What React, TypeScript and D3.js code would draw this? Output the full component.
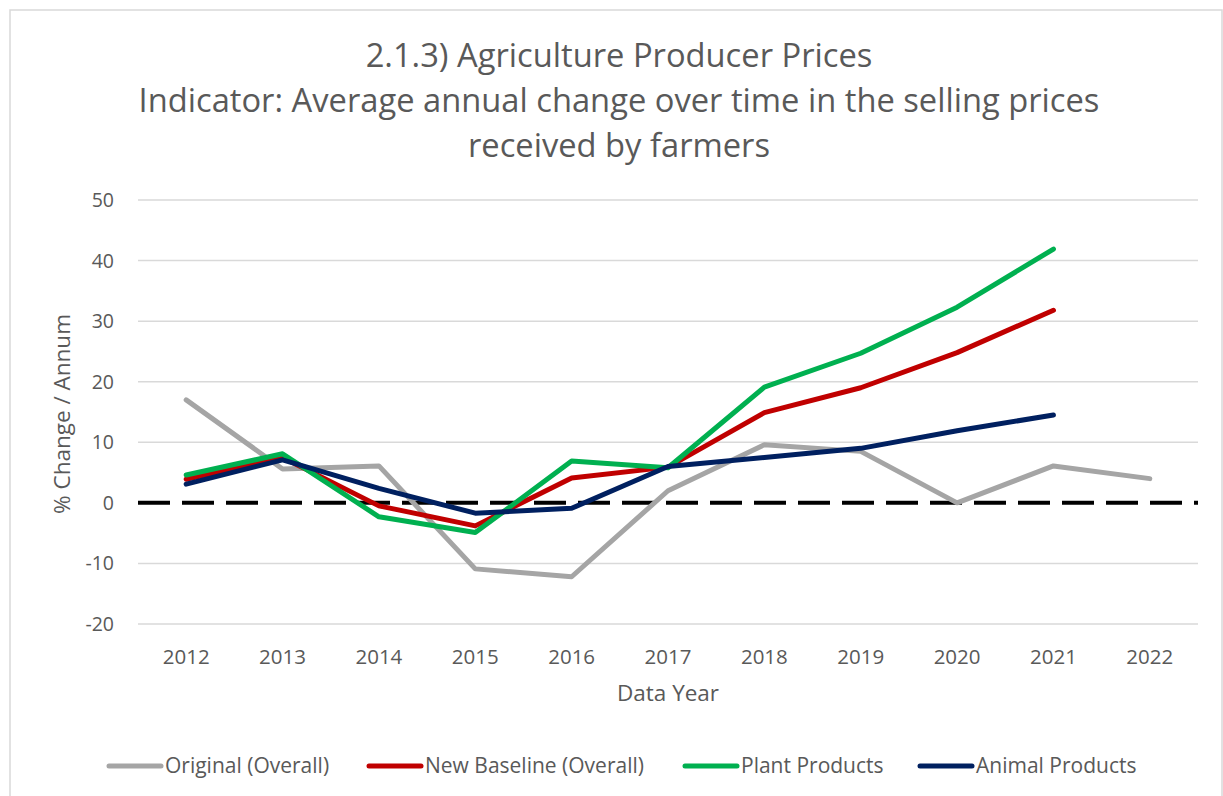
import React from "react";
import * as d3 from "d3";

const years = ["2012","2013","2014","2015","2016","2017","2018","2019","2020","2021","2022"];
const original = [17.0, 5.6, 6.1, -10.9, -12.2, 2.0, 9.6, 8.5, 0.0, 6.1, 4.0];
const newBaseline = [3.9, 7.5, -0.5, -3.8, 4.1, 5.9, 14.9, 19.0, 24.8, 31.8, null];
const plant = [4.6, 8.1, -2.3, -4.9, 6.9, 5.8, 19.1, 24.7, 32.3, 41.9, null];
const animal = [3.1, 7.1, 2.4, -1.7, -0.9, 6.0, 7.5, 9.0, 11.9, 14.5, null];
const yTicks = [-20, -10, 0, 10, 20, 30, 40, 50];
const titleLines = [
  "2.1.3) Agriculture Producer Prices",
  "Indicator: Average annual change over time in the selling prices",
  "received by farmers",
];
const seriesNames = ["Original (Overall)", "New Baseline (Overall)", "Plant Products", "Animal Products"];
const seriesColors = ["#a5a5a5", "#c00000", "#00b050", "#002060"];
const seriesData = [original, newBaseline, plant, animal];

const W = 1223, H = 796;
const left = 138, right = 1198, top = 200, bottom = 624;
const FONT = "'Open Sans', sans-serif";
const TXT = "#595959";

export default function App() {
  const x = d3.scaleBand<string>().domain(years).range([left, right]);
  const y = d3.scaleLinear().domain([-20, 50]).range([bottom, top]);
  const cx = (d: string) => (x(d) as number) + x.bandwidth() / 2;
  const line = d3
    .line<number | null>()
    .defined((d) => d !== null)
    .x((_, i) => cx(years[i]))
    .y((d) => y(d as number));
  const legendX = [107, 367, 683, 918];
  return (
    <svg width={W} height={H} style={{ position: "absolute", left: 0, top: 0, background: "#fff" }} fontFamily={FONT}>
      <rect x={10} y={10} width={1212} height={800} fill="#fff" stroke="#d9d9d9" strokeWidth={1.5} />
      {titleLines.map((t, i) => (
        <text key={i} x={619} y={67 + i * 45} textAnchor="middle" fontSize={32.7} fill={TXT}>{t}</text>
      ))}
      {yTicks.map((t) => (
        <g key={t}>
          {t !== 0 && <line x1={left} x2={right} y1={y(t)} y2={y(t)} stroke="#d9d9d9" strokeWidth={1.5} />}
          <text x={114} y={y(t) + 7} textAnchor="end" fontSize={19.5} fill={TXT}>{t}</text>
        </g>
      ))}
      <line x1={left} x2={right} y1={y(0)} y2={y(0)} stroke="#000" strokeWidth={4} strokeDasharray="32 12" />
      {years.map((yr) => (
        <text key={yr} x={cx(yr)} y={664} textAnchor="middle" fontSize={20.5} fill={TXT}>{yr}</text>
      ))}
      <text x={668} y={701} textAnchor="middle" fontSize={22.5} fill={TXT}>Data Year</text>
      <text transform={`translate(70,414) rotate(-90)`} textAnchor="middle" fontSize={22.5} fill={TXT}>% Change / Annum</text>
      {seriesData.map((s, i) => (
        <path key={i} d={line(s) || ""} fill="none" stroke={seriesColors[i]} strokeWidth={5} strokeLinejoin="round" strokeLinecap="round" />
      ))}
      {seriesNames.map((n, i) => (
        <g key={n}>
          <line x1={legendX[i] + 2} x2={legendX[i] + 54} y1={766} y2={766} stroke={seriesColors[i]} strokeWidth={5} strokeLinecap="round" />
          <text x={legendX[i] + 58} y={773} fontSize={21} fill={TXT}>{n}</text>
        </g>
      ))}
    </svg>
  );
}
